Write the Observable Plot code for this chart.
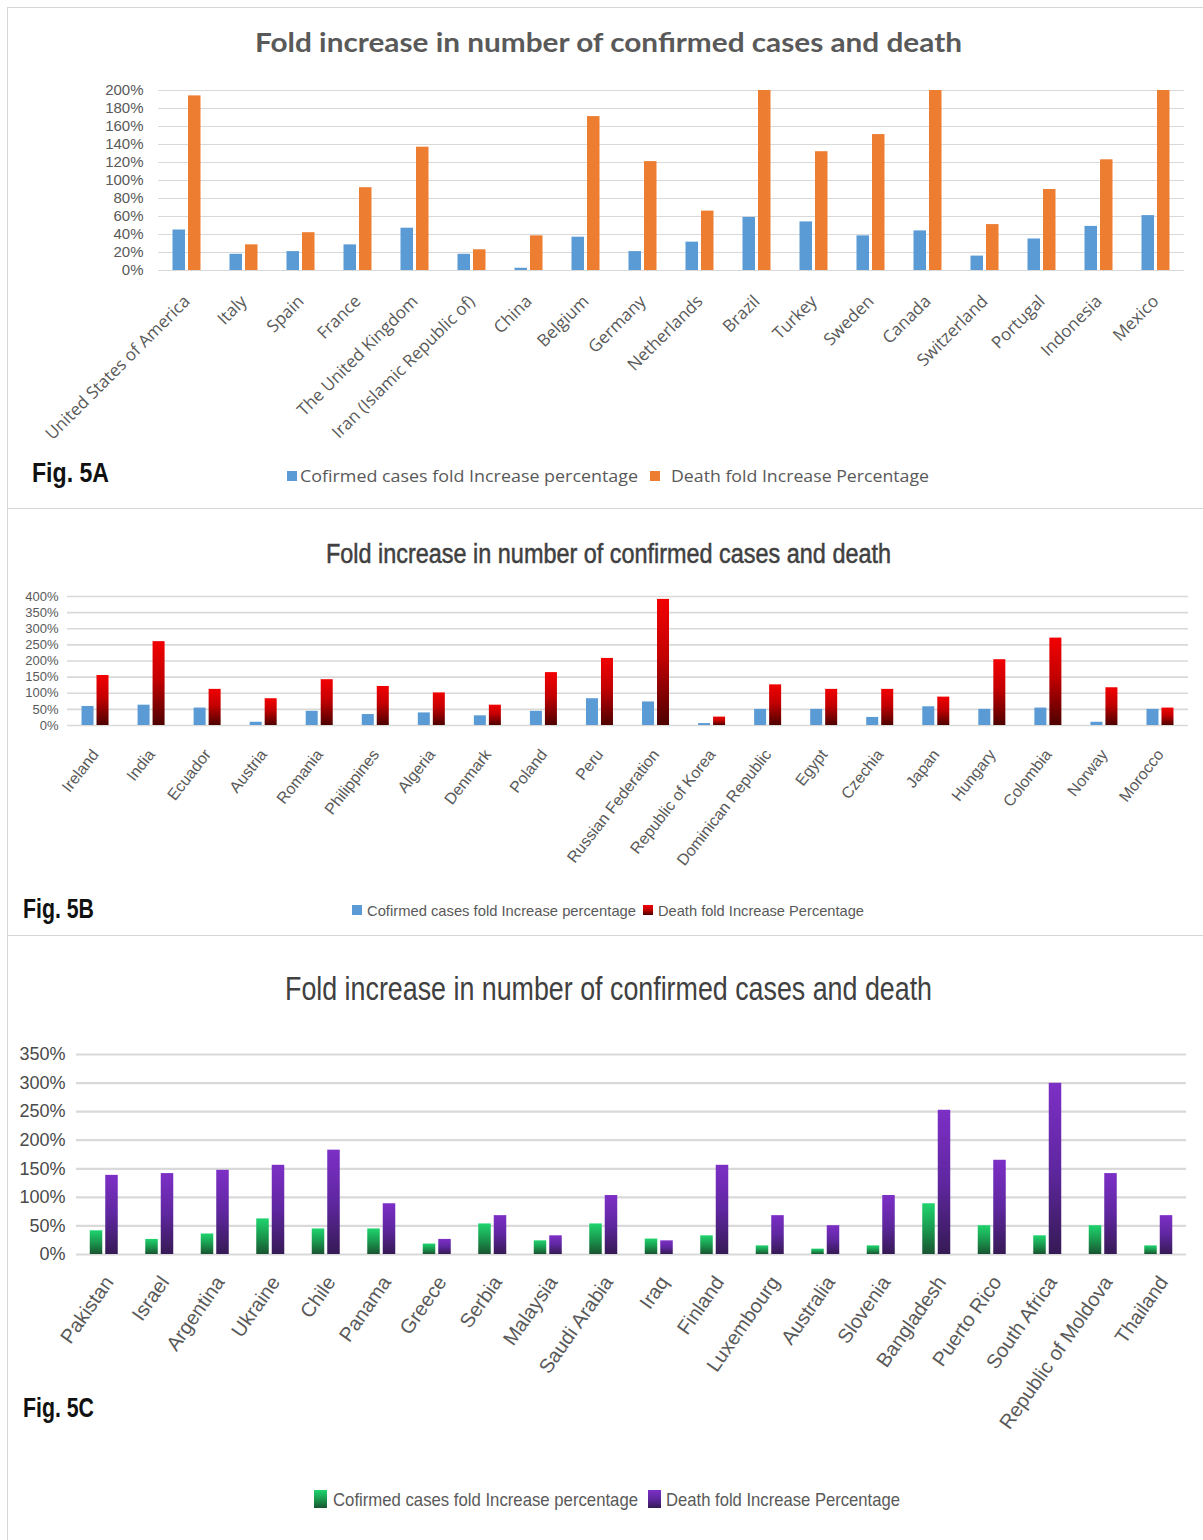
<!DOCTYPE html>
<html><head><meta charset="utf-8">
<script src="https://cdn.jsdelivr.net/npm/d3@7"></script>
<script src="https://cdn.jsdelivr.net/npm/@observablehq/plot@0.6"></script>
<style>
html,body{margin:0;padding:0;background:#fff;}
#page{position:relative;width:1203px;height:1540px;overflow:hidden;background:#fff;}
.box{position:absolute;border:1.5px solid #d6d6d6;box-sizing:border-box;}
.chart{position:absolute;left:0;}
#overlay{position:absolute;left:0;top:0;pointer-events:none;}
</style></head><body><div id="page"></div><script>
// ---------- Data ----------
const countriesA = ["United States of America","Italy","Spain","France","The United Kingdom","Iran (Islamic Republic of)","China","Belgium","Germany","Netherlands","Brazil","Turkey","Sweden","Canada","Switzerland","Portugal","Indonesia","Mexico"];
const casesA  = [45, 18, 21, 28.5, 47, 18, 2.5, 37, 21, 31.5, 59, 54, 38.5, 44, 16, 35, 49, 61];
const deathsA = [194, 28.5, 42, 92, 137, 23, 38.5, 171, 121, 66, 200, 132, 151, 200, 51, 90, 123, 200];
const yTicksA = [0,20,40,60,80,100,120,140,160,180,200];

const countriesB = ["Ireland","India","Ecuador","Austria","Romania","Philippines","Algeria","Denmark","Poland","Peru","Russian Federation","Republic of Korea","Dominican Republic","Egypt","Czechia","Japan","Hungary","Colombia","Norway","Morocco"];
const casesB  = [59, 63, 54, 10, 44, 34, 39, 30, 44, 83, 73, 6, 50, 50, 25, 58, 50, 54, 10, 50];
const deathsB = [155, 260, 112, 83, 142, 121, 101, 63, 164, 208, 391, 26, 126, 112, 112, 88, 204, 271, 117, 54];
const yTicksB = [0,50,100,150,200,250,300,350,400];

const countriesC = ["Pakistan","Israel","Argentina","Ukraine","Chile","Panama","Greece","Serbia","Malaysia","Saudi Arabia","Iraq","Finland","Luxembourg","Australia","Slovenia","Bangladesh","Puerto Rico","South Africa","Republic of Moldova","Thailand"];
const casesC  = [41.5, 26.4, 35.9, 62.3, 44.7, 44.7, 18.3, 53.5, 23.9, 53.5, 27, 32.7, 15.1, 9.4, 15.1, 88.8, 50.4, 32.7, 50.4, 15.1];
const deathsC = [138.5, 141.6, 147.3, 156.1, 182.6, 88.8, 26.4, 68, 32.7, 103.2, 23.9, 156.1, 68, 50.4, 103.2, 252.4, 164.9, 299.6, 141.6, 68];
const yTicksC = [0,50,100,150,200,250,300,350];

const titleText = "Fold increase in number of confirmed cases and death";
const legendCases = "Cofirmed cases fold Increase percentage";
const legendDeaths = "Death fold Increase Percentage";
const figLabels = ["Fig. 5A","Fig. 5B","Fig. 5C"];

// ---------- Helpers ----------
const NS = "http://www.w3.org/2000/svg";
const NARROW = "'Liberation Sans Narrow', 'Arial Narrow', 'Liberation Sans', sans-serif";
const page = document.getElementById("page");

function addGradient(svg, id, stops) {
  let defs = svg.querySelector("defs");
  if (!defs) { defs = document.createElementNS(NS, "defs"); svg.insertBefore(defs, svg.firstChild); }
  const g = document.createElementNS(NS, "linearGradient");
  g.setAttribute("id", id); g.setAttribute("x1", 0); g.setAttribute("y1", 0); g.setAttribute("x2", 0); g.setAttribute("y2", 1);
  stops.forEach(([o, c]) => { const s = document.createElementNS(NS, "stop"); s.setAttribute("offset", o); s.setAttribute("stop-color", c); g.appendChild(s); });
  defs.appendChild(g);
}

function box(left, top, w, h) {
  const d = document.createElement("div");
  d.className = "box";
  Object.assign(d.style, {left: left + "px", top: top + "px", width: w + "px", height: h + "px"});
  page.appendChild(d);
}

function chart(o) {
  const rows = o.countries.map((c, i) => ({country: c, cases: o.cases[i], deaths: o.deaths[i]}));
  const step = (o.width - o.ml - o.mr) / o.countries.length;
  const half = step / 2;
  const svg = Plot.plot({
    width: o.width, height: o.height,
    marginLeft: o.ml, marginRight: o.mr, marginTop: o.mt, marginBottom: o.mb,
    style: {background: "transparent", overflow: "visible", fontFamily: o.font},
    x: {domain: o.countries, padding: 0, round: false},
    y: {domain: [0, o.yMax]},
    marks: [
      Plot.gridY({ticks: o.yTicks, stroke: "#d9d9d9", strokeOpacity: 1, strokeWidth: o.gridWidth}),
      Plot.barY(rows, {x: "country", y: "cases", fill: o.caseFill, insetLeft: half - o.gap / 2 - o.barW, insetRight: half + o.gap / 2}),
      Plot.barY(rows, {x: "country", y: "deaths", fill: o.deathFill, insetLeft: half + o.gap / 2, insetRight: half - o.gap / 2 - o.barW}),
      Plot.axisY({ticks: o.yTicks, tickSize: 0, tickPadding: o.yPad, tickFormat: d => d + "%", fontSize: o.yFontSize, fontFamily: o.yFont || o.font, color: o.yColor || "#595959", label: null}),
      Plot.axisX({tickSize: 0, tickPadding: o.xPad, tickRotate: o.xRotate, fontSize: o.xFontSize, color: "#595959", label: null, dx: o.xDx || 0})
    ]
  });
  if (o.gradients) o.gradients.forEach(g => addGradient(svg, g.id, g.stops));
  svg.classList.add("chart");
  svg.style.position = "absolute";
  svg.style.left = "0px";
  svg.style.top = o.top + "px";
  page.appendChild(svg);
}

const redStops = [[0, "#f20000"], [0.45, "#c40000"], [1, "#4e0000"]];
const greenStops = [[0, "#1fd46e"], [0.5, "#1a9a4f"], [1, "#185430"]];
const purpleStops = [[0, "#7d2fc6"], [0.5, "#5f27a0"], [1, "#361a55"]];

// ---------- Panels ----------
box(7, 7, 1220, 502);
box(7, 508, 1220, 428);
box(7, 935, 1220, 640);

chart({top: 70, width: 1203, height: 400, ml: 158, mr: 19, mt: 20, mb: 200,
  countries: countriesA, cases: casesA, deaths: deathsA, yTicks: yTicksA, yMax: 200,
  caseFill: "#5b9bd5", deathFill: "#ed7d31", gridWidth: 1, barW: 12.5, gap: 3,
  font: "'Open Sans', sans-serif", yFont: "'Liberation Sans', sans-serif", yFontSize: 15, yPad: 15,
  xFontSize: 17, xRotate: -45, xPad: 28});

chart({top: 580, width: 1203, height: 300, ml: 67, mr: 15, mt: 16, mb: 155,
  countries: countriesB, cases: casesB, deaths: deathsB, yTicks: yTicksB, yMax: 400,
  caseFill: "#5b9bd5", deathFill: "url(#gradRed)", gradients: [{id: "gradRed", stops: redStops}],
  gridWidth: 1.6, barW: 12, gap: 3,
  font: NARROW, yFont: "'Liberation Sans', sans-serif", yFontSize: 13, yPad: 9, xFontSize: 16, xRotate: -52, xPad: 26});

chart({top: 1030, width: 1203, height: 400, ml: 76, mr: 17, mt: 24, mb: 176,
  countries: countriesC, cases: casesC, deaths: deathsC, yTicks: yTicksC, yMax: 350,
  caseFill: "url(#gradGreen)", deathFill: "url(#gradPurple)",
  gradients: [{id: "gradGreen", stops: greenStops}, {id: "gradPurple", stops: purpleStops}],
  gridWidth: 2.2, barW: 12.5, gap: 3,
  font: NARROW, yFontSize: 18, yPad: 11, yColor: "#4a4a4a", xFontSize: 20, xRotate: -55, xPad: 24, xDx: 5});

// ---------- Overlay texts (titles, legends, figure labels) ----------
const ov = document.createElementNS(NS, "svg");
ov.setAttribute("id", "overlay"); ov.setAttribute("width", 1203); ov.setAttribute("height", 1540);
page.appendChild(ov);
addGradient(ov, "lgRed", redStops);
addGradient(ov, "lgGreen", greenStops);
addGradient(ov, "lgPurple", purpleStops);

function txt(s, x, y, o) {
  const t = document.createElementNS(NS, "text");
  t.textContent = s;
  t.setAttribute("x", x); t.setAttribute("y", y);
  t.setAttribute("font-family", o.font); t.setAttribute("font-size", o.size);
  t.setAttribute("fill", o.fill || "#595959");
  if (o.weight) t.setAttribute("font-weight", o.weight);
  if (o.len) { t.setAttribute("textLength", o.len); t.setAttribute("lengthAdjust", "spacingAndGlyphs"); }
  if (o.stroke) { t.setAttribute("stroke", o.stroke); t.setAttribute("stroke-width", o.strokeWidth); }
  ov.appendChild(t);
}
function rect(x, y, w, h, fill) {
  const r = document.createElementNS(NS, "rect");
  r.setAttribute("x", x); r.setAttribute("y", y); r.setAttribute("width", w); r.setAttribute("height", h); r.setAttribute("fill", fill);
  ov.appendChild(r);
}

// Titles
txt(titleText, 255, 52, {font: "Lato, 'Open Sans', sans-serif", size: 26, weight: "bold", fill: "#595959", len: 707});
txt(titleText, 326, 563, {font: NARROW, size: 27, fill: "#404040", len: 565, stroke: "#404040", strokeWidth: 0.5});
txt(titleText, 285, 1000, {font: NARROW, size: 34, fill: "#404040", len: 647});

// Legends
rect(287, 471, 10, 10, "#5b9bd5");
txt(legendCases, 300, 482, {font: "'Open Sans', sans-serif", size: 16, len: 338});
rect(650, 471, 10, 10, "#ed7d31");
txt(legendDeaths, 671, 482, {font: "'Open Sans', sans-serif", size: 16, len: 258});

rect(352, 905, 10, 10, "#5b9bd5");
txt(legendCases, 367, 916, {font: NARROW, size: 15, len: 269});
rect(643, 905, 10, 10, "url(#lgRed)");
txt(legendDeaths, 658, 916, {font: NARROW, size: 15, len: 206});

rect(314, 1490, 13, 18, "url(#lgGreen)");
txt(legendCases, 333, 1506, {font: NARROW, size: 19, len: 305});
rect(648, 1490, 13, 18, "url(#lgPurple)");
txt(legendDeaths, 666, 1506, {font: NARROW, size: 19, len: 234});

// Figure labels
txt(figLabels[0], 32, 482, {font: NARROW, size: 28, weight: "bold", fill: "#111", len: 77});
txt(figLabels[1], 23, 918, {font: NARROW, size: 28, weight: "bold", fill: "#111", len: 71});
txt(figLabels[2], 23, 1417, {font: NARROW, size: 28, weight: "bold", fill: "#111", len: 71});
</script></body></html>
